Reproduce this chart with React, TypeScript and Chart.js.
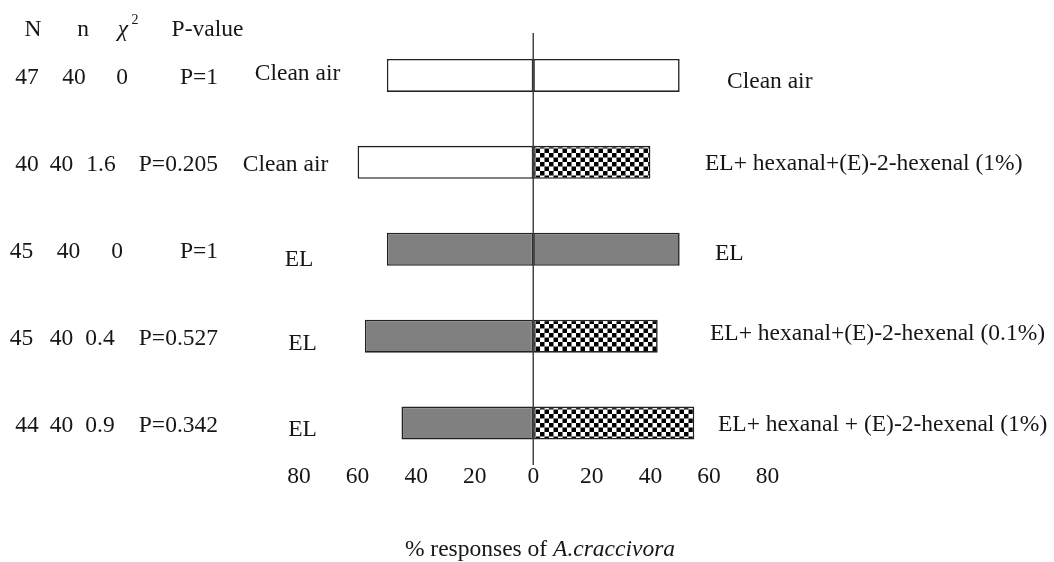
import React, { useEffect, useRef } from 'react';
import { Chart, registerables } from 'chart.js';
Chart.register(...registerables);

// ---- data ----
const rowIds = ['row1', 'row2', 'row3', 'row4', 'row5'];
const leftPct = [50, 60, 50, 57.5, 45];
const rightPct = [50, 40, 50, 42.5, 55];
const leftKind = ['white', 'white', 'gray', 'gray', 'gray'];
const rightKind = ['white', 'checker', 'gray', 'checker', 'checker'];
const colN = ['47', '40', '45', '45', '44'];
const colSmallN = ['40', '40', '40', '40', '40'];
const colChi = ['0', '1.6', '0', '0.4', '0.9'];
const colP = ['P=1', 'P=0.205', 'P=1', 'P=0.527', 'P=0.342'];
const leftLabels = ['Clean air', 'Clean air', 'EL', 'EL', 'EL'];
const rightLabels = [
  'Clean air',
  'EL+ hexanal+(E)-2-hexenal (1%)',
  'EL',
  'EL+ hexanal+(E)-2-hexenal (0.1%)',
  'EL+ hexanal + (E)-2-hexenal (1%)',
];
const xMin = -80;
const xMax = 80;
const xStep = 20;
const titleNormal = '% responses of ';
const titleItalic = 'A.craccivora';

// ---- layout of the text table (positions only) ----
const FONT = '"Liberation Serif", "Times New Roman", serif';
const FS = 23.5;
const TEXT = '#161616';
const nX = [27, 27, 21.5, 21.5, 27];
const smallNX = [74, 61.5, 68.5, 61.5, 61.5];
const chiX = [122, 101, 117, 100, 100];
const pRight = 218;
const leftLabelX = [297.5, 285.5, 299, 302.5, 302.5];
const leftLabelDy = [-3.5, 0.5, 8.5, 6, 5];
const rightLabelX = [727, 705, 715, 710, 718];
const rightLabelDy = [4.5, 0, 2.5, -4, 0];

function makeChecker(): CanvasPattern | string {
  const c = document.createElement('canvas');
  c.width = 9;
  c.height = 9;
  const g = c.getContext('2d');
  if (!g) return '#000';
  g.fillStyle = '#ffffff';
  g.fillRect(0, 0, 9, 9);
  g.fillStyle = '#000000';
  g.fillRect(0, 0, 4.5, 4.5);
  g.fillRect(4.5, 4.5, 4.5, 4.5);
  const p = g.createPattern(c, 'repeat');
  return p || '#000';
}

export default function App() {
  const ref = useRef<HTMLCanvasElement>(null);

  useEffect(() => {
    if (!ref.current) return;
    const checker = makeChecker();
    const fillFor = (k: string) => (k === 'white' ? '#ffffff' : k === 'gray' ? '#808080' : checker);

    const textPlugin = {
      id: 'annot',
      afterDatasetsDraw(chart: any) {
        const { ctx, chartArea, scales } = chart;
        const x0 = scales.x.getPixelForValue(0);
        ctx.save();
        ctx.strokeStyle = '#444444';
        ctx.lineWidth = 1.5;
        ctx.beginPath();
        ctx.moveTo(x0, chartArea.top + 1);
        ctx.lineTo(x0, chartArea.bottom - 1.5);
        ctx.stroke();
        ctx.restore();
      },
      afterDraw(chart: any) {
        const { ctx, scales } = chart;
        const y = scales.y;
        const put = (s: string, x: number, yc: number, align: CanvasTextAlign, size = FS, style = '') => {
          ctx.font = `${style} ${size}px ${FONT}`.trim();
          ctx.textAlign = align;
          ctx.textBaseline = 'alphabetic';
          ctx.fillText(s, x, yc + 0.33 * size);
        };
        ctx.save();
        ctx.fillStyle = TEXT;
        // header
        put('N', 33, 28, 'center');
        put('n', 83, 28, 'center');
        put('χ', 123, 28, 'center', FS, 'italic');
        put('2', 135, 19, 'center', 14);
        put('P-value', 207.5, 28, 'center');
        rowIds.forEach((_, i) => {
          const yc = y.getPixelForValue(i);
          put(colN[i], nX[i], yc + 1, 'center');
          put(colSmallN[i], smallNX[i], yc + 1, 'center');
          put(colChi[i], chiX[i], yc + 1, 'center');
          put(colP[i], pRight, yc + 1, 'right');
          put(leftLabels[i], leftLabelX[i], yc + leftLabelDy[i], 'center');
          put(rightLabels[i], rightLabelX[i], yc + rightLabelDy[i], 'left');
        });
        // axis title with italic species name
        ctx.font = `${FS}px ${FONT}`;
        const w1 = ctx.measureText(titleNormal).width;
        ctx.font = `italic ${FS}px ${FONT}`;
        const w2 = ctx.measureText(titleItalic).width;
        const start = 540 - (w1 + w2) / 2;
        put(titleNormal, start, 548, 'left');
        put(titleItalic, start + w1, 548, 'left', FS, 'italic');
        ctx.restore();
      },
    };

    const chart = new Chart(ref.current, {
      type: 'bar',
      data: {
        labels: rowIds,
        datasets: [
          {
            label: 'left',
            data: leftPct.map((v) => -v),
            backgroundColor: leftKind.map(fillFor) as any,
            borderColor: '#222222',
            borderWidth: 1.6,
            borderSkipped: false,
            stack: 's',
          },
          {
            label: 'right',
            data: rightPct,
            backgroundColor: rightKind.map(fillFor) as any,
            borderColor: '#222222',
            borderWidth: 1.6,
            borderSkipped: false,
            stack: 's',
          },
        ],
      },
      options: {
        indexAxis: 'y',
        responsive: false,
        animation: false,
        events: [],
        categoryPercentage: 1,
        barPercentage: 0.38,
        layout: { padding: { left: 299, right: 286.5, top: 32, bottom: 75.5 } },
        plugins: { legend: { display: false }, tooltip: { enabled: false }, title: { display: false } },
        scales: {
          x: {
            type: 'linear',
            min: xMin,
            max: xMax,
            stacked: true,
            grid: { display: false, drawTicks: false },
            border: { display: false },
            ticks: {
              stepSize: xStep,
              padding: -1,
              color: TEXT,
              font: { family: FONT, size: FS, lineHeight: 1 },
              callback: (v: any) => String(Math.abs(Number(v))),
            },
            afterFit: (s: any) => {
              s.height = 20;
            },
          },
          y: {
            type: 'category',
            stacked: true,
            display: false,
            offset: true,
          },
        },
      },
      plugins: [textPlugin],
    } as any);
    return () => chart.destroy();
  }, []);

  return (
    <div style={{ position: 'absolute', left: 0, top: 0, width: 1054, height: 562, background: '#fff' }}>
      <canvas ref={ref} width={1054} height={562} style={{ display: 'block', width: 1054, height: 562 }} />
    </div>
  );
}
